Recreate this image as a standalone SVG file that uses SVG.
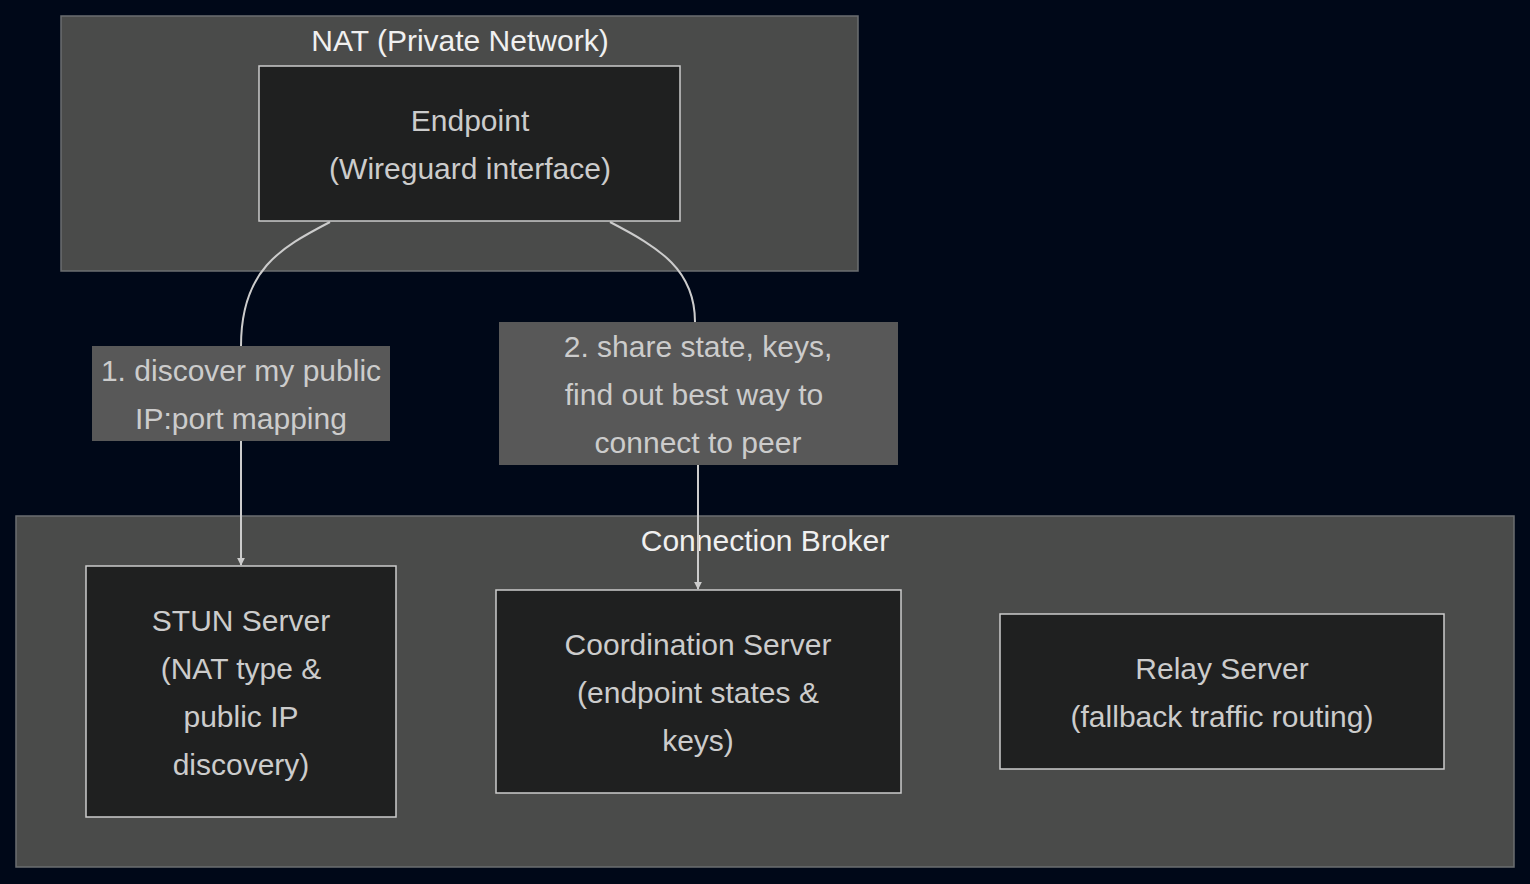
<svg xmlns="http://www.w3.org/2000/svg" width="1530" height="884" viewBox="0 0 1530 884">
<style>
.cl{fill:#4a4b4a;stroke:#6b6e70;stroke-width:1.5}
.nd{fill:#1f2020;stroke:#cccccc;stroke-width:1.5}
.lb{fill:#585858}
.t{font-family:"Liberation Sans",Arial,sans-serif;font-size:30px;fill:#cccccc;text-anchor:middle}
.ct{font-family:"Liberation Sans",Arial,sans-serif;font-size:30px;fill:#f0f0f0;text-anchor:middle}
.e{fill:none;stroke:#cccccc;stroke-width:2}
</style>
<defs><marker id="a" viewBox="0 0 10 10" refX="9" refY="5" markerWidth="8" markerHeight="8" orient="auto" markerUnits="userSpaceOnUse"><path d="M0,0L10,5L0,10z" fill="#cccccc"/></marker></defs>
<rect width="1530" height="884" fill="#000818"/>
<g id="nat"><rect class="cl" x="61" y="16" width="797" height="255"/><text class="ct" x="460" y="51">NAT (Private Network)</text></g>
<g id="broker"><rect class="cl" x="16" y="516" width="1498" height="351"/><text class="ct" x="765" y="551">Connection Broker</text></g>
<g id="connectors">
<path class="e" d="M330,222C280,248 241,270 241,346"/>
<path class="e" d="M241,441V565" marker-end="url(#a)"/>
<path class="e" d="M610,222C660,248 695,270 695,322"/>
<path class="e" d="M698,465V589" marker-end="url(#a)"/>
</g>
<g id="label1"><rect class="lb" x="92" y="346" width="298" height="95"/><text class="t" x="241" y="381">1. discover my public</text><text class="t" x="241" y="429">IP:port mapping</text></g>
<g id="label2"><rect class="lb" x="499" y="322" width="399" height="143"/><text class="t" x="698" y="357">2. share state, keys,</text><text class="t" x="694" y="405">find out best way to</text><text class="t" x="698" y="453">connect to peer</text></g>
<g id="endpoint"><rect class="nd" x="259" y="66" width="421" height="155"/><text class="t" x="470" y="131">Endpoint</text><text class="t" x="470" y="179">(Wireguard interface)</text></g>
<g id="stun"><rect class="nd" x="86" y="566" width="310" height="251"/><text class="t" x="241" y="631">STUN Server</text><text class="t" x="241" y="679">(NAT type &amp;</text><text class="t" x="241" y="727">public IP</text><text class="t" x="241" y="775">discovery)</text></g>
<g id="coord"><rect class="nd" x="496" y="590" width="405" height="203"/><text class="t" x="698" y="655">Coordination Server</text><text class="t" x="698" y="703">(endpoint states &amp;</text><text class="t" x="698" y="751">keys)</text></g>
<g id="relay"><rect class="nd" x="1000" y="614" width="444" height="155"/><text class="t" x="1222" y="679">Relay Server</text><text class="t" x="1222" y="727">(fallback traffic routing)</text></g>
</svg>
